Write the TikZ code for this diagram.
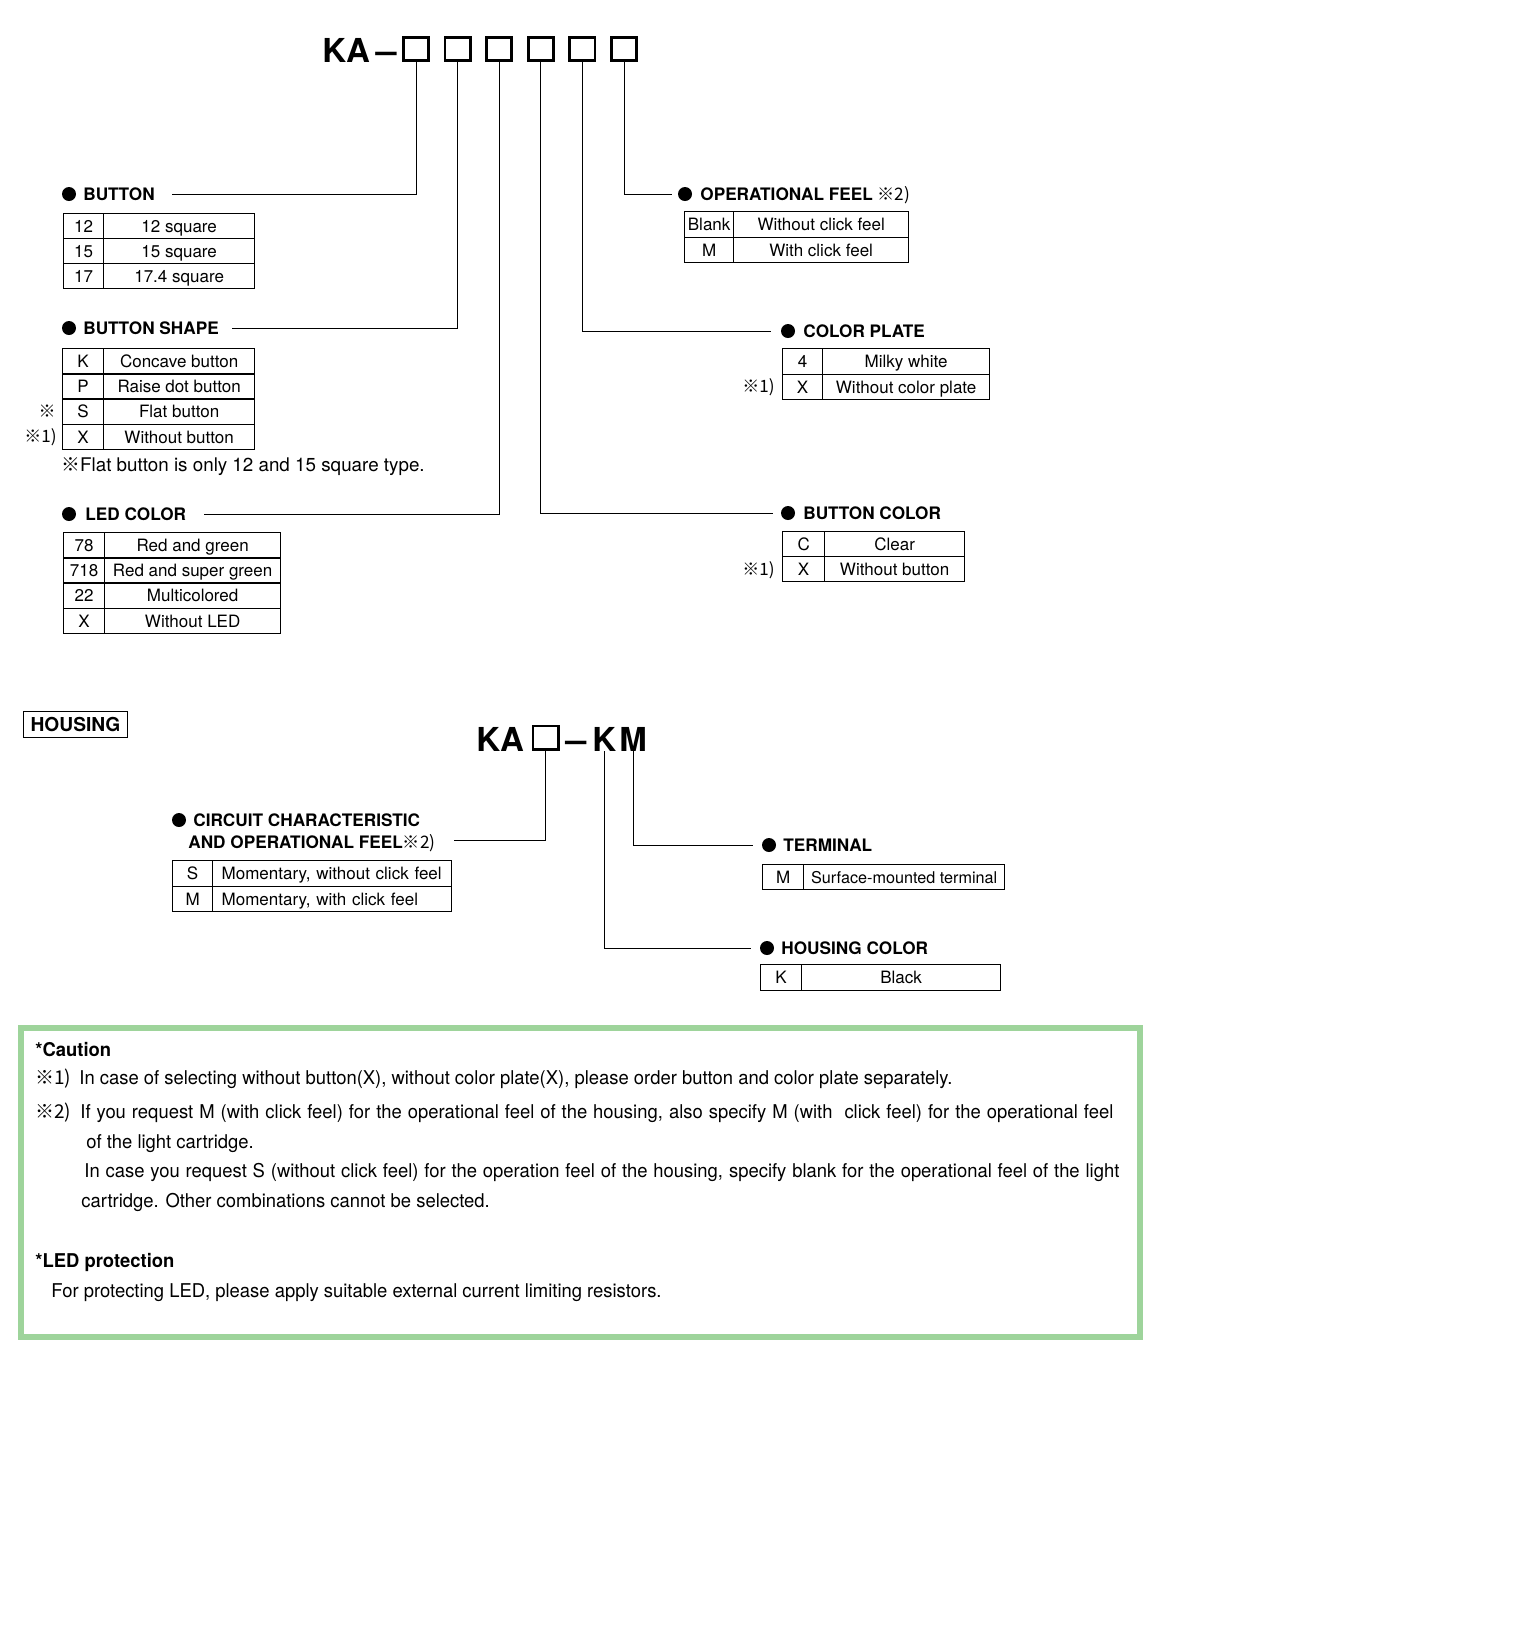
\documentclass[tikz,border=0pt]{standalone}
\usepackage{fontspec}
\setmainfont{TeX Gyre Heros}
\newfontfamily\cjk{Noto Sans CJK JP}
\newfontfamily\condfont[FakeStretch=0.97]{TeX Gyre Heros}
\usepackage{xcolor}
\usepackage{graphicx}
\usepackage{tikz}
\definecolor{cautiongreen}{RGB}{158,212,155}
\newcommand{\cellfont}{\fontsize{8.5pt}{10pt}\selectfont}
\newcommand{\hdfont}{\fontsize{8.6pt}{10pt}\selectfont\bfseries}
\newcommand{\ttlfont}{\fontsize{16.5pt}{18pt}\selectfont\bfseries}
\newcommand{\notefont}{\fontsize{9.4pt}{11pt}\selectfont}
\newcommand{\cautfont}{\fontsize{9.5pt}{11pt}\selectfont\condfont}
\newcommand{\refmark}[1]{{\cjk\mdseries ※#1}}
\newcommand{\longdash}{\scalebox{1.15}[1]{–}}
\tikzset{
  selbox/.style={draw=black,line width=1.4pt,minimum width=12.6pt,minimum height=11.6pt,inner sep=0pt},
  leader/.style={line width=0.5pt},
  secdot/.style={circle,fill=black,inner sep=0pt,minimum size=7pt},
  sechead/.style={anchor=west,inner sep=0pt,font=\hdfont,text height=6.2pt,text depth=0pt},
  spcell/.style={draw=black,line width=0.65pt,anchor=north west,inner sep=0pt,font=\cellfont,text height=6.1pt,text depth=0pt},
  markl/.style={anchor=east,inner sep=0pt,font=\cellfont,text height=6.1pt,text depth=0pt},
  ttl/.style={anchor=base west,inner sep=0pt,font=\ttlfont},
  cautline/.style={anchor=west,inner sep=0pt,font=\cautfont,text height=6.8pt,text depth=0pt},
}

\begin{document}
\begin{tikzpicture}[x=0.5pt,y=-0.5pt]
  \useasboundingbox (0,0) rectangle (1526,1640);

  % light cartridge code
  \node[ttl] (ka) at (322,62) {KA\,\longdash};
  \foreach \i in {1,...,6}
    \node[selbox] (k\i) at ({416+41.6*(\i-1)},49) {};

  % button
  \node[secdot] (d-button) at (69,194) {};
  \node[sechead] (h-button) at (83,194) {BUTTON};
  \coordinate (e-button) at (172,194);
  \draw[leader] (k1.south) |- (e-button);
  \foreach \c/\d [count=\r] in {12/12 square, 15/15 square, 17/17.4 square}
    {\node[spcell,minimum width=20pt,minimum height=12.5pt] (button-c\r) at (63,{213+25*(\r-1)}) {\c};
     \node[spcell,minimum width=75.5pt,minimum height=12.5pt] (button-d\r) at (103,{213+25*(\r-1)}) {\d};}

  % button shape
  \node[secdot] (d-shape) at (69,328) {};
  \node[sechead] (h-shape) at (83,328) {BUTTON SHAPE};
  \coordinate (e-shape) at (232,328);
  \draw[leader] (k2.south) |- (e-shape);
  \foreach \c/\d [count=\r] in {K/Concave button, P/Raise dot button, S/Flat button, X/Without button}
    {\node[spcell,minimum width=20.5pt,minimum height=12.6pt] (shape-c\r) at (62,{348+25.25*(\r-1)}) {\c};
     \node[spcell,minimum width=75.5pt,minimum height=12.6pt] (shape-d\r) at (103,{348+25.25*(\r-1)}) {\d};}
  \node[markl] (m-flat) at (56,411) {\refmark{}};
  \node[markl] (m-shape) at (57,436) {\refmark{1)}};
  \node[anchor=west,inner sep=0pt,font=\notefont,text height=6.8pt,text depth=0pt] (n-flat) at (61,465)
    {\refmark{}Flat button is only 12 and 15 square type.};

  % LED color
  \node[secdot] (d-led) at (69,514) {};
  \node[sechead] (h-led) at (85,514) {LED COLOR};
  \coordinate (e-led) at (204,514);
  \draw[leader] (k3.south) |- (e-led);
  \foreach \c/\d [count=\r] in {78/Red and green, 718/Red and super green, 22/Multicolored, X/Without LED}
    {\node[spcell,minimum width=20.5pt,minimum height=12.6pt] (led-c\r) at (63,{532+25.25*(\r-1)}) {\c};
     \node[spcell,minimum width=88pt,minimum height=12.6pt] (led-d\r) at (104,{532+25.25*(\r-1)}) {\d};}

  % operational feel
  \coordinate (e-feel) at (672,194);
  \draw[leader] (k6.south) |- (e-feel);
  \node[secdot] (d-feel) at (685,194) {};
  \node[sechead] (h-feel) at (700,194) {OPERATIONAL FEEL \refmark{2)}};
  \foreach \c/\d [count=\r] in {Blank/Without click feel, M/With click feel}
    {\node[spcell,minimum width=24.5pt,minimum height=12.75pt] (feel-c\r) at (684,{211+25.5*(\r-1)}) {\c};
     \node[spcell,minimum width=87.5pt,minimum height=12.75pt] (feel-d\r) at (733,{211+25.5*(\r-1)}) {\d};}

  % color plate
  \coordinate (e-plate) at (771,331);
  \draw[leader] (k5.south) |- (e-plate);
  \node[secdot] (d-plate) at (788,331) {};
  \node[sechead] (h-plate) at (803,331) {COLOR PLATE};
  \foreach \c/\d [count=\r] in {4/Milky white, X/Without color plate}
    {\node[spcell,minimum width=20pt,minimum height=12.75pt] (plate-c\r) at (782,{348+25.5*(\r-1)}) {\c};
     \node[spcell,minimum width=83.5pt,minimum height=12.75pt] (plate-d\r) at (822,{348+25.5*(\r-1)}) {\d};}
  \node[markl] (m-plate) at (775,386) {\refmark{1)}};

  % button color
  \coordinate (e-bcolor) at (773,513);
  \draw[leader] (k4.south) |- (e-bcolor);
  \node[secdot] (d-bcolor) at (788,513) {};
  \node[sechead] (h-bcolor) at (803,513) {BUTTON COLOR};
  \foreach \c/\d [count=\r] in {C/Clear, X/Without button}
    {\node[spcell,minimum width=21pt,minimum height=12.5pt] (bcolor-c\r) at (782,{531+25*(\r-1)}) {\c};
     \node[spcell,minimum width=70pt,minimum height=12.5pt] (bcolor-d\r) at (824,{531+25*(\r-1)}) {\d};}
  \node[markl] (m-bcolor) at (775,569) {\refmark{1)}};

  % housing code
  \node[draw=black,line width=0.6pt,minimum width=52pt,minimum height=13pt,inner sep=0pt,
        font=\fontsize{9.6pt}{11pt}\selectfont\bfseries] (housing) at (75.5,724.5) {HOUSING};
  \node[ttl] (hka) at (476,751) {KA};
  \node[selbox] (hsel) at (545.5,737.5) {};
  \node[ttl] (hdash) at (565,751) {\longdash};
  \node[ttl] (hk) at (592,751) {K};
  \node[ttl] (hm) at (619,751) {M};

  % circuit characteristic
  \node[secdot] (d-circuit) at (179,820) {};
  \node[sechead] (h-circuit) at (193,820) {CIRCUIT CHARACTERISTIC};
  \node[sechead] (h-circuit2) at (188,842) {AND OPERATIONAL FEEL\refmark{2)}};
  \coordinate (e-circuit) at (454,840);
  \draw[leader] (hsel.south) |- (e-circuit);
  \foreach \c/\d [count=\r] in {S/{Momentary, without click feel}, M/{Momentary, with click feel}}
    {\node[spcell,minimum width=20pt,minimum height=12.75pt] (circuit-c\r) at (172,{860+25.5*(\r-1)}) {\c};
     \node[spcell,minimum height=12.75pt,inner xsep=4.5pt,text width=110.5pt,align=left] (circuit-d\r) at (212,{860+25.5*(\r-1)}) {\d};}

  % terminal
  \coordinate (e-term) at (753,845);
  \draw[leader] (hm.south) |- (e-term);
  \node[secdot] (d-term) at (769,845) {};
  \node[sechead] (h-term) at (783,845) {TERMINAL};
  \node[spcell,minimum width=20.5pt,minimum height=12.5pt] (term-c1) at (762,864) {M};
  \node[spcell,minimum width=100.5pt,minimum height=12.5pt,font=\fontsize{8.1pt}{10pt}\selectfont] (term-d1) at (803,864) {Surface-mounted terminal};

  % housing color
  \coordinate (e-hcolor) at (751,948);
  \draw[leader] (hk.south) |- (e-hcolor);
  \node[secdot] (d-hcolor) at (767,948) {};
  \node[sechead] (h-hcolor) at (781,948) {HOUSING COLOR};
  \node[spcell,minimum width=20.5pt,minimum height=13pt] (hcolor-c1) at (760,964) {K};
  \node[spcell,minimum width=99.5pt,minimum height=13pt] (hcolor-d1) at (801,964) {Black};

  % caution frame
  \draw[cautiongreen,line width=3pt] (20.5,1028) rectangle (1140,1337);
  \node[cautline,font=\cautfont\bfseries] (c-title) at (35,1050) {*Caution};
  \node[cautline] (c-m1) at (35,1078) {\refmark{1)}};
  \node[cautline] (c-t1) at (79,1078) {In case of selecting without button(X), without color plate(X), please order button and color plate separately.};
  \node[cautline] (c-m2) at (35,1112) {\refmark{2)}};
  \node[cautline] (c-t2) at (80,1112) {\makebox[516.5pt][s]{If you request M (with click feel) for the operational feel of the housing, also specify M (with\ \ click feel) for the operational feel}};
  \node[cautline] (c-t3) at (86,1142) {of the light cartridge.};
  \node[cautline] (c-t4) at (84,1171) {\makebox[517.5pt][s]{In case you request S (without click feel) for the operation feel of the housing, specify blank for the operational feel of the light}};
  \node[cautline] (c-t5) at (81,1201) {cartridge. Other combinations cannot be selected.};
  \node[cautline,font=\cautfont\bfseries] (l-title) at (35,1261) {*LED protection};
  \node[cautline] (l-t1) at (51,1291) {For protecting LED, please apply suitable external current limiting resistors.};
\end{tikzpicture}
\end{document}
